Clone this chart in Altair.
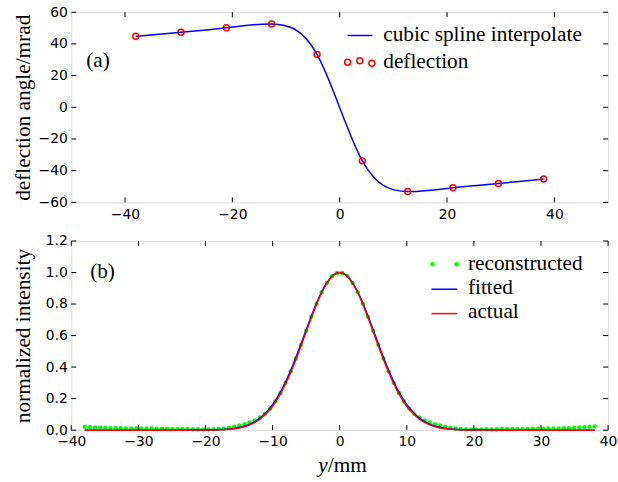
import altair as alt
import pandas as pd

# ---------------- panel (a) data ----------------
defl_x = [-38.0, -29.56, -21.11, -12.67, -4.22, 4.22, 12.67, 21.11, 29.56, 38.0]
defl_y = [44.8, 47.3, 50.2, 52.6, 33.4, -33.8, -53.2, -50.8, -48.1, -45.3]
top_xticks = [-40, -20, 0, 20, 40]
top_yticks = [-60, -40, -20, 0, 20, 40, 60]

# ---------------- panel (b) data ----------------
rec_x = [-38.0, -37.232, -36.465, -35.697, -34.929, -34.162, -33.394, -32.626, -31.859, -31.091,
         -30.323, -29.556, -28.788, -28.02, -27.253, -26.485, -25.717, -24.949, -24.182, -23.414,
         -22.646, -21.879, -21.111, -20.343, -19.576, -18.808, -18.04, -17.273, -16.505, -15.737,
         -14.97, -14.202, -13.434, -12.667, -11.899, -11.131, -10.364, -9.596, -8.828, -8.061,
         -7.293, -6.525, -5.758, -4.99, -4.222, -3.455, -2.687, -1.919, -1.152, -0.384,
         0.384, 1.152, 1.919, 2.687, 3.455, 4.222, 4.99, 5.758, 6.525, 7.293,
         8.061, 8.828, 9.596, 10.364, 11.131, 11.899, 12.667, 13.434, 14.202, 14.97,
         15.737, 16.505, 17.273, 18.04, 18.808, 19.576, 20.343, 21.111, 21.879, 22.646,
         23.414, 24.182, 24.949, 25.717, 26.485, 27.253, 28.02, 28.788, 29.556, 30.323,
         31.091, 31.859, 32.626, 33.394, 34.162, 34.929, 35.697, 36.465, 37.232, 38.0]
rec_y = [0.021, 0.019, 0.017, 0.015, 0.014, 0.013, 0.012, 0.012, 0.011, 0.011,
         0.011, 0.010, 0.010, 0.010, 0.009, 0.009, 0.009, 0.008, 0.008, 0.007,
         0.007, 0.006, 0.006, 0.005, 0.005, 0.006, 0.008, 0.011, 0.015, 0.021,
         0.029, 0.038, 0.049, 0.062, 0.080, 0.104, 0.138, 0.182, 0.236, 0.300,
         0.373, 0.455, 0.541, 0.631, 0.719, 0.802, 0.875, 0.934, 0.976, 0.997,
         0.997, 0.976, 0.934, 0.875, 0.802, 0.719, 0.631, 0.541, 0.455, 0.373,
         0.300, 0.236, 0.182, 0.138, 0.104, 0.080, 0.062, 0.049, 0.038, 0.029,
         0.021, 0.015, 0.011, 0.008, 0.006, 0.005, 0.005, 0.005, 0.006, 0.006,
         0.006, 0.007, 0.007, 0.007, 0.008, 0.008, 0.008, 0.009, 0.009, 0.009,
         0.010, 0.010, 0.011, 0.012, 0.013, 0.015, 0.017, 0.019, 0.022, 0.024]

line_x = [-38, -30, -24, -20, -18, -17, -16, -15, -14, -13, -12, -11, -10, -9, -8, -7, -6, -5, -4,
          -3, -2, -1, 0, 1, 2, 3, 4, 5, 6, 7, 8, 9, 10, 11, 12, 13, 14, 15, 16, 17, 18, 20, 24, 30, 38]
fitted_y = [0.0, 0.0, 0.0, 0.0007, 0.003, 0.005, 0.0095, 0.017, 0.028, 0.046, 0.073, 0.111, 0.162,
            0.229, 0.312, 0.410, 0.520, 0.635, 0.748, 0.849, 0.930, 0.982, 1.0, 0.982, 0.930, 0.849,
            0.748, 0.635, 0.520, 0.410, 0.312, 0.229, 0.162, 0.111, 0.073, 0.046, 0.028, 0.017,
            0.0095, 0.005, 0.003, 0.0007, 0.0, 0.0, 0.0]
actual_y = [0.0, 0.0, 0.0, 0.0005, 0.002, 0.004, 0.008, 0.014, 0.025, 0.041, 0.066, 0.102, 0.152,
            0.217, 0.299, 0.397, 0.507, 0.624, 0.739, 0.844, 0.927, 0.981, 1.0, 0.981, 0.927, 0.844,
            0.739, 0.624, 0.507, 0.397, 0.299, 0.217, 0.152, 0.102, 0.066, 0.041, 0.025, 0.014,
            0.008, 0.004, 0.002, 0.0005, 0.0, 0.0, 0.0]
bot_xticks = [-40, -30, -20, -10, 0, 10, 20, 30, 40]
bot_yticks = [0.0, 0.2, 0.4, 0.6, 0.8, 1.0, 1.2]

W = 542
H1 = 192
H2 = 191
SERIF = "Liberation Serif"
SANS = "DejaVu Sans"
TL = 5  # inward tick length
LEG = 21.5
TITLE = 21.5

defl_df = pd.DataFrame({"x": defl_x, "y": defl_y})
rec_df = pd.DataFrame({"x": rec_x, "y": rec_y})
fit_df = pd.DataFrame({"x": line_x, "y": fitted_y})
act_df = pd.DataFrame({"x": line_x, "y": actual_y})


def tick_layers(xticks, yticks, xs, ys, xaxis, yaxis, H):
    dx = pd.DataFrame({"x": xticks})
    dy = pd.DataFrame({"y": yticks})
    base_x = alt.Chart(dx).mark_rule(color="black", strokeWidth=1)
    base_y = alt.Chart(dy).mark_rule(color="black", strokeWidth=1)
    return [
        base_x.encode(x=alt.X("x:Q", scale=xs, axis=xaxis), y=alt.value(H - TL), y2=alt.value(H)),
        base_x.encode(x=alt.X("x:Q", scale=xs, axis=xaxis), y=alt.value(0), y2=alt.value(TL)),
        base_y.encode(y=alt.Y("y:Q", scale=ys, axis=yaxis), x=alt.value(0), x2=alt.value(TL)),
        base_y.encode(y=alt.Y("y:Q", scale=ys, axis=yaxis), x=alt.value(W - TL), x2=alt.value(W)),
    ]


def text_layer(s, x, y, size=LEG, align="left", style="normal", baseline="middle"):
    return alt.Chart(pd.DataFrame({"t": [s]})).mark_text(
        font=SERIF, fontSize=size, align=align, baseline=baseline, fontStyle=style, color="black"
    ).encode(x=alt.value(x), y=alt.value(y), text="t:N")


def axis_x(vals):
    return alt.Axis(values=vals, title=None, ticks=False, domain=False, grid=False,
                    labelFont=SANS, labelFontSize=14, labelColor="black", labelPadding=5,
                    labelFlush=False)


def axis_y(vals, title, fmt, H):
    return alt.Axis(values=vals, title=title, ticks=False, domain=False, grid=False, format=fmt,
                    labelFont=SANS, labelFontSize=14, labelColor="black", labelPadding=4,
                    labelFlush=False, titleFont=SERIF, titleFontSize=TITLE, titleFontWeight="normal",
                    titleColor="black", titleAngle=270, titleX=-48, titleY=H / 2,
                    titleAlign="center", titleBaseline="middle")


# ---------------- panel (a) ----------------
xs1 = alt.Scale(domain=[-50, 50], nice=False, zero=False)
ys1 = alt.Scale(domain=[-60, 60], nice=False, zero=False)
xa1 = axis_x(top_xticks)
ya1 = axis_y(top_yticks, "deflection angle/mrad", "d", H1)

spline = alt.Chart(defl_df).mark_line(color="#0000ff", strokeWidth=1.5, interpolate="natural").encode(
    x=alt.X("x:Q", scale=xs1, axis=xa1), y=alt.Y("y:Q", scale=ys1, axis=ya1))
pts = alt.Chart(defl_df).mark_point(shape="circle", filled=False, color="#ff0000", strokeWidth=1.5,
                                    size=36, opacity=1).encode(
    x=alt.X("x:Q", scale=xs1, axis=xa1), y=alt.Y("y:Q", scale=ys1, axis=ya1))

leg_a = [
    alt.Chart(pd.DataFrame({"k": [1]})).mark_rule(color="#0000ff", strokeWidth=1.5).encode(
        x=alt.value(279), x2=alt.value(304), y=alt.value(23.5)),
    text_layer("cubic spline interpolate", 315, 23),
    text_layer("deflection", 315, 50),
]
for cx, cy in [(279, 50.5), (291.3, 49), (303.5, 51.5)]:
    leg_a.append(alt.Chart(pd.DataFrame({"k": [1]})).mark_point(
        shape="circle", filled=False, color="#ff0000", strokeWidth=1.5, size=36, opacity=1).encode(
        x=alt.value(cx), y=alt.value(cy)))

top = alt.layer(
    spline, pts,
    *tick_layers(top_xticks, top_yticks, xs1, ys1, xa1, ya1, H1),
    text_layer("(a)", 15, 49),
    *leg_a,
).properties(width=W, height=H1)

# ---------------- panel (b) ----------------
xs2 = alt.Scale(domain=[-40, 40], nice=False, zero=False)
ys2 = alt.Scale(domain=[0, 1.2], nice=False, zero=False)
xa2 = axis_x(bot_xticks)
ya2 = axis_y(bot_yticks, "normalized intensity", ".1f", H2)

rec = alt.Chart(rec_df).mark_circle(color="#00ff00", size=20, opacity=1).encode(
    x=alt.X("x:Q", scale=xs2, axis=xa2), y=alt.Y("y:Q", scale=ys2, axis=ya2))
fit = alt.Chart(fit_df).mark_line(color="#0000ff", strokeWidth=1.5, interpolate="monotone").encode(
    x=alt.X("x:Q", scale=xs2, axis=xa2), y=alt.Y("y:Q", scale=ys2, axis=ya2))
act = alt.Chart(act_df).mark_line(color="#ff0000", strokeWidth=1.5, interpolate="monotone").encode(
    x=alt.X("x:Q", scale=xs2, axis=xa2), y=alt.Y("y:Q", scale=ys2, axis=ya2))

leg_b = [
    alt.Chart(pd.DataFrame({"k": [1]})).mark_circle(color="#00ff00", size=20, opacity=1).encode(
        x=alt.value(364.7), y=alt.value(23.5)),
    alt.Chart(pd.DataFrame({"k": [1]})).mark_circle(color="#00ff00", size=20, opacity=1).encode(
        x=alt.value(389), y=alt.value(23.5)),
    alt.Chart(pd.DataFrame({"k": [1]})).mark_rule(color="#0000ff", strokeWidth=1.5).encode(
        x=alt.value(363.7), x2=alt.value(389.7), y=alt.value(48.7)),
    alt.Chart(pd.DataFrame({"k": [1]})).mark_rule(color="#ff0000", strokeWidth=1.5).encode(
        x=alt.value(363.7), x2=alt.value(389.7), y=alt.value(73.3)),
    text_layer("reconstructed", 400.5, 23),
    text_layer("fitted", 400.5, 47.5),
    text_layer("actual", 400.5, 72),
]

bottom = alt.layer(
    rec, fit, act,
    *tick_layers(bot_xticks, bot_yticks, xs2, ys2, xa2, ya2, H2),
    text_layer("(b)", 19, 31),
    *leg_b,
    text_layer("y", 259, 233, align="right", style="italic", baseline="alphabetic"),
    text_layer("/mm", 259, 233, align="left", baseline="alphabetic"),
).properties(width=W, height=H2)

chart = alt.vconcat(top, bottom, spacing=11).properties(
    padding={"left": 12, "top": 2, "right": 0, "bottom": 0}
).configure_view(stroke="black", strokeWidth=1).configure(background="white")

chart.save("out.html", embed_options={"renderer": "svg", "actions": False})
